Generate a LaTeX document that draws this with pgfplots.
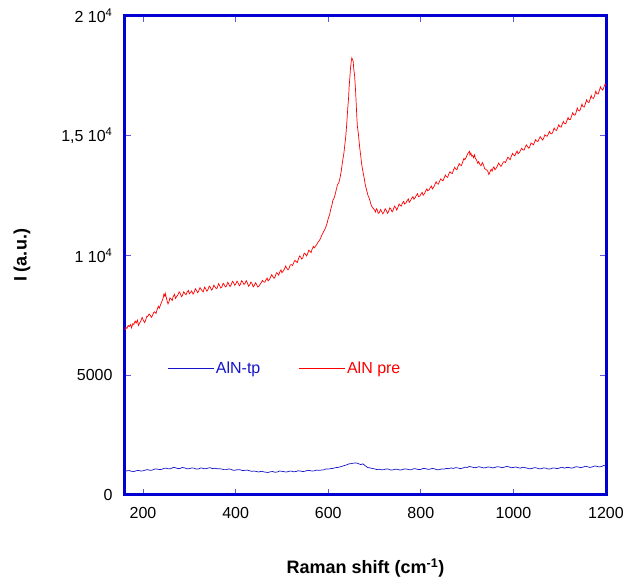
\documentclass[border=0pt]{standalone}
\usepackage{pgfplots}
\pgfplotsset{compat=1.18}
\usepackage{fontspec}
\setmainfont{Liberation Sans}
\definecolor{frameblue}{RGB}{0,0,210}
\definecolor{tickblue}{RGB}{90,90,230}
\definecolor{lineblue}{RGB}{20,20,200}
\definecolor{linered}{RGB}{255,0,0}
\begin{document}
\begin{tikzpicture}
\useasboundingbox (-125pt,-85pt) rectangle (500pt,495pt);
\begin{axis}[
  at={(0pt,0pt)}, anchor=south west,
  scale only axis, width=481pt, height=479pt,
  xmin=161, xmax=1200, ymin=0, ymax=20000,
  axis line style={frameblue, line width=3pt},
  tick style={tickblue, line width=0.8pt},
  major tick length=6pt,
  tick align=inside,
  xtick={200,400,600,800,1000,1200},
  ytick={0,5000,10000,15000,20000},
  yticklabels={0,5000,{1 10\textsuperscript{4}},{1,5 10\textsuperscript{4}},{2 10\textsuperscript{4}}},
  scaled ticks=false,
  /pgf/number format/1000 sep={},
  /pgf/number format/assume math mode=true,
  xticklabel style={font=\fontsize{16}{18}\selectfont, yshift=-9pt},
  yticklabel style={font=\fontsize{16}{18}\selectfont, xshift=-9pt},
  xlabel={\textbf{Raman shift (cm\textsuperscript{-1})}},
  ylabel={\textbf{I (a.u.)}},
  label style={font=\fontsize{18}{20}\selectfont},
  xlabel style={at={(axis description cs:0.5,0)}, anchor=center, yshift=-73pt},
  ylabel style={at={(axis description cs:-0.214,0.5)}, anchor=center},
  legend style={draw=none, fill=none, at={(39pt,127pt)}, anchor=west, legend columns=2,
    font=\fontsize{16}{18}\selectfont, /tikz/every even column/.append style={column sep=36pt}},
  legend cell align=left,
  legend image code/.code={\draw[#1] (0pt,0pt) -- (46pt,0pt);},
  clip=true,
]
\addplot[lineblue, line width=0.7pt] coordinates {
(161,980) (165,1010) (170,1020) (175,990) (180,980) (185,1010) (190,1030) (195,1000) (200,1010) (205,1040) (210,1060) (215,1030) (220,1040) (225,1080) (230,1090) (235,1060) (240,1070) (245,1110) (250,1120)
(255,1090) (260,1100) (265,1150) (270,1140) (275,1100) (280,1110) (285,1150) (290,1130) (295,1090) (300,1100) (305,1130) (310,1120) (315,1080) (320,1090) (325,1130) (330,1110) (335,1090) (340,1120) (345,1140) (350,1100)
(355,1120) (360,1090) (365,1100) (370,1080) (375,1060) (380,1060) (385,1090) (390,1070) (395,1030) (400,1040) (405,1060) (410,1050) (415,1020) (420,1030) (425,1040) (430,1010) (435,990) (440,1000) (445,980) (450,960)
(455,990) (460,970) (465,950) (470,940) (475,970) (480,980) (485,950) (490,960) (495,1000) (500,990) (505,970) (510,960) (515,990) (520,1000) (525,970) (530,980) (535,1010) (540,1000) (545,980) (550,990)
(555,1030) (560,1020) (565,1000) (570,1010) (575,1040) (580,1030) (585,1040) (590,1050) (595,1090) (600,1080) (605,1100) (610,1110) (615,1140) (620,1150) (625,1170) (630,1200) (635,1230) (640,1260) (645,1300) (650,1310)
(655,1330) (660,1340) (665,1310) (670,1270) (675,1300) (680,1220) (685,1150) (690,1130) (695,1110) (700,1090) (705,1060) (710,1080) (715,1050) (720,1060) (725,1090) (730,1080) (735,1040)
(740,1050) (745,1080) (750,1070) (755,1040) (760,1060) (765,1090) (770,1080) (775,1050) (780,1060) (785,1100) (790,1090) (795,1060) (800,1070) (805,1110) (810,1100) (815,1070) (820,1080) (825,1110) (830,1090)
(835,1050) (840,1060) (845,1090) (850,1080) (855,1110) (860,1100) (865,1130) (870,1110) (875,1140) (880,1130) (885,1100) (890,1120) (895,1160) (900,1150) (905,1190) (910,1170) (915,1140) (920,1150) (925,1180) (930,1160)
(935,1130) (940,1140) (945,1170) (950,1160) (955,1130) (960,1150) (965,1180) (970,1170) (975,1140) (980,1160) (985,1190) (990,1180) (995,1140) (1000,1150) (1005,1170) (1010,1140) (1015,1120) (1020,1160) (1025,1140) (1030,1120)
(1035,1090) (1040,1110) (1045,1140) (1050,1130) (1055,1090) (1060,1100) (1065,1130) (1070,1120) (1075,1080) (1080,1090) (1085,1130) (1090,1120) (1095,1100) (1100,1130) (1105,1160) (1110,1120) (1115,1150) (1120,1150) (1125,1120) (1130,1140)
(1135,1180) (1140,1170) (1145,1140) (1150,1160) (1155,1200) (1160,1180) (1165,1150) (1170,1170) (1175,1210) (1180,1200) (1185,1170) (1190,1190) (1195,1230) (1200,1220)
};
\addlegendentry[text=lineblue]{AlN-tp}
\addplot[linered, line width=0.7pt] coordinates {
(161,6880) (163,6990) (165,6950) (168,7080) (170,7030) (173,7120) (175,6980) (178,7150) (180,7120) (183,7260) (185,7180) (188,7300) (190,7080) (193,7190) (195,7250) (198,7420) (200,7320) (203,7200) (205,7260)
(208,7460) (210,7450) (213,7560) (215,7520) (218,7420) (220,7480) (223,7620) (225,7650) (228,7580) (230,7720) (233,7880) (235,7800) (238,7950) (240,8050) (243,8200) (245,8380) (247,8300) (248,8420) (250,8260) (252,8100)
(254,7980) (256,8060) (258,8230) (260,8200) (263,8120) (265,8280) (268,8380) (270,8210) (273,8300) (275,8350) (278,8480) (280,8430) (283,8280) (285,8330) (288,8490) (290,8420) (293,8360) (295,8470) (298,8540) (300,8400)
(303,8460) (305,8520) (308,8390) (310,8450) (313,8610) (315,8560) (318,8450) (320,8510) (323,8660) (325,8600) (328,8520) (330,8480) (333,8680) (335,8620) (338,8510) (340,8570) (343,8720) (345,8680) (348,8560) (350,8600)
(353,8760) (355,8700) (358,8620) (360,8640) (363,8820) (365,8760) (368,8640) (370,8680) (373,8840) (375,8790) (378,8690) (380,8720) (383,8880) (385,8810) (388,8700) (390,8760) (393,8920) (395,8880) (398,8760) (400,8800)
(403,8930) (405,8860) (408,8740) (410,8780) (413,8950) (415,8900) (418,8790) (420,8830) (423,8950) (425,8870) (428,8720) (430,8760) (433,8890) (435,8840) (438,8690) (440,8740) (443,8860) (445,8800) (448,8680) (450,8720)
(453,8800) (455,8860) (458,8960) (460,8900) (463,8880) (465,8960) (468,9060) (470,8940) (473,9000) (475,9080) (478,9200) (480,9130) (483,9050) (485,9100) (488,9280) (490,9260) (493,9180) (495,9300) (498,9400) (500,9280)
(503,9360) (505,9420) (508,9560) (510,9480) (513,9400) (515,9450) (518,9600) (520,9620) (523,9580) (525,9680) (528,9800) (530,9760) (533,9700) (535,9820) (538,9980) (540,9950) (543,9850) (545,9900) (548,10100) (550,10080)
(553,9980) (555,10050) (558,10220) (560,10180) (563,10120) (565,10260) (568,10380) (570,10320) (573,10400) (575,10450) (578,10560) (580,10600) (583,10700) (585,10800) (588,10920) (590,11000) (593,11100) (595,11200) (598,11380) (600,11550)
(603,11700) (605,11900) (608,12100) (610,12300) (613,12420) (615,12550) (618,12800) (620,12950) (623,13050) (625,13200) (628,13500) (630,13800) (632,14050) (634,14300) (636,14650) (638,15000) (640,15500) (642,16100) (644,16600) (645,17000)
(647,17500) (648,17800) (650,18150) (651,18250) (652,18200) (654,18100) (655,17800) (657,17500) (659,16900) (660,16500) (662,15700) (663,15400) (665,15100) (666,14900) (668,14500) (670,14200) (672,13850) (674,13600) (676,13400) (678,13200)
(680,12950) (682,12800) (684,12650) (686,12500) (688,12420) (690,12300) (692,12150) (694,12050) (696,12000) (698,11950) (700,11900) (702,11820) (704,11950) (706,11900) (708,11760) (710,11780) (713,11920) (715,11850) (718,11740) (720,11800)
(723,11950) (725,11900) (728,11760) (730,11820) (733,11990) (735,11950) (738,11820) (740,11880) (743,12060) (745,12020) (748,11900) (750,11980) (753,12150) (755,12100) (758,12060) (760,12180) (763,12260) (765,12150) (768,12200) (770,12280)
(773,12360) (775,12220) (778,12300) (780,12380) (783,12460) (785,12350) (788,12420) (790,12500) (793,12580) (795,12460) (798,12480) (800,12560) (803,12640) (805,12520) (808,12580) (810,12680) (813,12780) (815,12700) (818,12740) (820,12820)
(823,12900) (825,12780) (828,12860) (830,12950) (833,13080) (835,13000) (838,12980) (840,13080) (843,13200) (845,13150) (848,13120) (850,13220) (853,13360) (855,13300) (858,13260) (860,13380) (863,13500) (865,13450) (868,13420) (870,13540)
(873,13680) (875,13620) (878,13580) (880,13700) (883,13840) (885,13780) (888,13760) (890,13880) (893,14050) (895,14000) (898,14100) (900,14200) (903,14300) (905,14350) (906,14200) (908,14280) (910,14150) (912,14180) (914,14080) (916,14200)
(918,14050) (920,14000) (923,13850) (925,13920) (928,13780) (930,13750) (933,13880) (935,13800) (938,13620) (940,13600) (943,13560) (945,13500) (947,13380) (948,13420) (950,13520) (952,13600) (954,13520) (956,13650) (958,13700) (960,13580)
(963,13650) (965,13720) (968,13860) (970,13800) (973,13720) (975,13780) (978,13900) (980,13920) (983,13880) (985,13980) (988,14100) (990,14060) (993,14000) (995,14120) (998,14260) (1000,14200) (1003,14160) (1005,14260) (1008,14360) (1010,14240)
(1013,14300) (1015,14380) (1018,14480) (1020,14420) (1023,14400) (1025,14500) (1028,14620) (1030,14560) (1033,14480) (1035,14520) (1038,14700) (1040,14680) (1043,14620) (1045,14700) (1048,14840) (1050,14780) (1053,14760) (1055,14850) (1058,14960) (1060,14900)
(1063,14820) (1065,14880) (1068,15040) (1070,15000) (1073,14980) (1075,15060) (1078,15180) (1080,15100) (1083,15080) (1085,15150) (1088,15320) (1090,15250) (1093,15220) (1095,15300) (1098,15460) (1100,15380) (1103,15360) (1105,15460) (1108,15600) (1110,15520)
(1113,15500) (1115,15600) (1118,15760) (1120,15680) (1123,15680) (1125,15780) (1128,15960) (1130,15880) (1133,15860) (1135,15950) (1138,16160) (1140,16060) (1143,16040) (1145,16120) (1148,16320) (1150,16220) (1153,16200) (1155,16300) (1158,16500) (1160,16420)
(1163,16380) (1165,16480) (1168,16680) (1170,16580) (1173,16560) (1175,16650) (1178,16860) (1180,16760) (1183,16740) (1185,16850) (1188,17040) (1190,16960) (1193,16900) (1195,17000) (1198,17160) (1200,17080)
};
\addlegendentry[text=linered]{AlN pre}
\end{axis}
\end{tikzpicture}
\end{document}
